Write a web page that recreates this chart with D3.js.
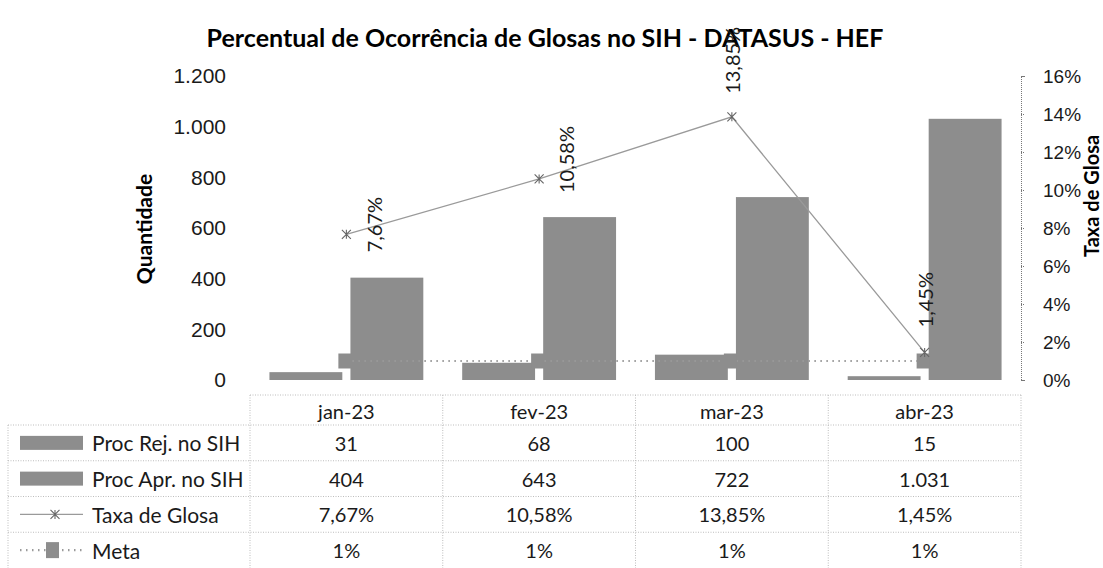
<!DOCTYPE html>
<html>
<head>
<meta charset="utf-8">
<script src="https://cdn.jsdelivr.net/npm/d3@7"></script>
<style>
  body { margin: 0; background: #fff; }
  svg { display: block; font-family: Lato, "Open Sans", sans-serif; }
  .axis text { fill: #1a1a1a; }
</style>
</head>
<body>
<svg id="chart" width="1103" height="568"></svg>
<script>
// data
const categories = ["jan-23", "fev-23", "mar-23", "abr-23"];
const procRej = [31, 68, 100, 15];
const procApr = [404, 643, 722, 1031];
const taxaGlosa = [7.67, 10.58, 13.85, 1.45];
const meta = [1, 1, 1, 1];
const leftTicks = [0, 200, 400, 600, 800, 1000, 1200];
const rightTicks = [0, 2, 4, 6, 8, 10, 12, 14, 16];
const seriesNames = ["Proc Rej. no SIH", "Proc Apr. no SIH", "Taxa de Glosa", "Meta"];

const ptBR = d3.formatLocale({decimal: ",", thousands: ".", grouping: [3], currency: ["R$", ""]});
const fmtInt = ptBR.format(",d");
const fmtPct2 = v => ptBR.format(".2f")(v) + "%";
const fmtPct0 = v => ptBR.format("d")(v) + "%";

const svg = d3.select("#chart");
const barColor = "#8d8d8d";
const lineColor = "#9a9a9a";

// scales
const x = d3.scaleBand().domain(categories).range([250, 1021]).padding(0);
const xs = d3.scaleBand().domain(["rej", "apr"]).range([0, x.bandwidth()])
    .paddingInner(0.1).paddingOuter(0.24);
const yL = d3.scaleLinear().domain([0, 1200]).range([380, 76]);
const yR = d3.scaleLinear().domain([0, 16]).range([380, 76]);
const cx = c => x(c) + x.bandwidth() / 2;

// title
svg.append("text")
    .attr("x", 545).attr("y", 47)
    .attr("text-anchor", "middle")
    .style("font-size", "25px").style("font-weight", "bold")
    .text("Percentual de Ocorrência de Glosas no SIH - DATASUS - HEF");

// left axis (labels only)
const axL = svg.append("g").attr("class", "axis")
    .attr("transform", "translate(232,0)")
    .call(d3.axisLeft(yL).tickValues(leftTicks).tickSize(0).tickPadding(6).tickFormat(fmtInt));
axL.select(".domain").remove();
axL.selectAll("text").style("font-size", "21px");

// right axis
const axR = svg.append("g").attr("class", "axis")
    .attr("transform", "translate(1021,0)")
    .call(d3.axisRight(yR).tickValues(rightTicks).tickSize(4).tickPadding(18).tickFormat(fmtPct0));
axR.selectAll("path, line").attr("stroke", "#777").attr("stroke-dasharray", "1,1");
axR.selectAll("text").style("font-size", "19px");

// axis titles
svg.append("text")
    .attr("transform", "translate(143,229) rotate(-90)")
    .attr("text-anchor", "middle").attr("dominant-baseline", "central")
    .style("font-size", "21px").style("font-weight", "bold")
    .text("Quantidade");
svg.append("text")
    .attr("transform", "translate(1091,196) rotate(-90)")
    .attr("text-anchor", "middle").attr("dominant-baseline", "central")
    .style("font-size", "20px").style("font-weight", "bold")
    .text("Taxa de Glosa");

// bars
const barData = categories.map((c, i) => ({c, rej: procRej[i], apr: procApr[i]}));
const groups = svg.append("g").selectAll("g")
    .data(barData).join("g")
    .attr("transform", d => `translate(${x(d.c)},0)`);
groups.selectAll("rect")
    .data(d => [{k: "rej", v: d.rej}, {k: "apr", v: d.apr}])
    .join("rect")
    .attr("x", d => xs(d.k))
    .attr("width", xs.bandwidth())
    .attr("y", d => yL(d.v))
    .attr("height", d => yL(0) - yL(d.v))
    .attr("fill", barColor);

// meta line + square markers
const metaPts = categories.map((c, i) => [cx(c), yR(meta[i])]);
svg.append("path")
    .attr("d", d3.line()(metaPts))
    .attr("fill", "none").attr("stroke", lineColor)
    .attr("stroke-width", 2.2).attr("stroke-dasharray", "1.5,4.5");
svg.append("g").selectAll("rect")
    .data(metaPts).join("rect")
    .attr("x", d => d[0] - 8).attr("y", d => d[1] - 7.5)
    .attr("width", 13).attr("height", 15)
    .attr("fill", barColor);

// taxa de glosa line
const taxaPts = categories.map((c, i) => [cx(c), yR(taxaGlosa[i])]);
svg.append("path")
    .attr("d", d3.line()(taxaPts))
    .attr("fill", "none").attr("stroke", lineColor).attr("stroke-width", 1.3);

function asterisk(g, r) {
    g.append("path")
        .attr("d", `M${-r},${-r}L${r},${r}M${-r},${r}L${r},${-r}M0,${-r}L0,${r}`)
        .attr("stroke", "#666").attr("stroke-width", 1.1).attr("fill", "none");
}
svg.append("g").selectAll("g")
    .data(taxaPts).join("g")
    .attr("transform", d => `translate(${d[0]},${d[1]})`)
    .each(function () { asterisk(d3.select(this), 4.5); });

// rotated data labels (first two were nudged to the right in the original)
const labelNudge = [[28, 18], [27, 14], [0, -23], [0, -25]];
svg.append("g").selectAll("text")
    .data(taxaPts).join("text")
    .attr("transform", (d, i) => `translate(${d[0] + labelNudge[i][0]},${d[1] + labelNudge[i][1]}) rotate(-90)`)
    .attr("text-anchor", "start").attr("dominant-baseline", "central")
    .style("font-size", "20px").attr("fill", "#1a1a1a")
    .text((d, i) => fmtPct2(taxaGlosa[i]));

// data table
const tbl = svg.append("g");
const headTop = 395, tableBottom = 568, legendLeft = 8;
const rows = d3.scaleBand().domain(seriesNames).range([425, tableBottom]);
const gridStyle = sel => sel.attr("stroke", "#bdbdbd").attr("stroke-width", 1).attr("stroke-dasharray", "1,1.5");

// horizontal lines
tbl.append("line").attr("x1", x.range()[0]).attr("x2", x.range()[1])
    .attr("y1", headTop).attr("y2", headTop).call(gridStyle);
tbl.selectAll(".hl").data(seriesNames).join("line").attr("class", "hl")
    .attr("x1", legendLeft).attr("x2", x.range()[1])
    .attr("y1", d => rows(d)).attr("y2", d => rows(d)).call(gridStyle);
// vertical lines
const colEdges = categories.map(c => x(c)).concat([x.range()[1]]);
tbl.selectAll(".vl").data(colEdges).join("line").attr("class", "vl")
    .attr("x1", d => d).attr("x2", d => d)
    .attr("y1", headTop).attr("y2", tableBottom).call(gridStyle);
tbl.append("line").attr("x1", legendLeft).attr("x2", legendLeft)
    .attr("y1", rows.range()[0]).attr("y2", tableBottom).call(gridStyle);

// header
tbl.selectAll(".hd").data(categories).join("text").attr("class", "hd")
    .attr("x", d => cx(d)).attr("y", (headTop + rows.range()[0]) / 2 + 1)
    .attr("text-anchor", "middle").attr("dominant-baseline", "central")
    .style("font-size", "20px").attr("fill", "#1a1a1a")
    .text(d => d);

// body cells
const tableVals = [procRej.map(fmtInt), procApr.map(fmtInt), taxaGlosa.map(fmtPct2), meta.map(fmtPct0)];
seriesNames.forEach((s, r) => {
    const yc = rows(s) + rows.bandwidth() / 2;
    tbl.append("g").selectAll("text")
        .data(categories).join("text")
        .attr("x", d => cx(d)).attr("y", yc)
        .attr("text-anchor", "middle").attr("dominant-baseline", "central")
        .style("font-size", "20px").attr("fill", "#1a1a1a")
        .text((d, i) => tableVals[r][i]);

    // legend key
    const key = tbl.append("g").attr("transform", `translate(0,${yc})`);
    if (r < 2) {
        key.append("rect").attr("x", 20).attr("y", -7).attr("width", 63).attr("height", 14).attr("fill", barColor);
    } else if (r === 2) {
        key.append("line").attr("x1", 20).attr("x2", 83).attr("stroke", lineColor).attr("stroke-width", 1.3);
        asterisk(key.append("g").attr("transform", "translate(55,0)"), 4.5);
    } else {
        key.append("line").attr("x1", 20).attr("x2", 83).attr("stroke", lineColor)
            .attr("stroke-width", 2.2).attr("stroke-dasharray", "1.5,4.5");
        key.append("rect").attr("x", 46).attr("y", -8).attr("width", 13).attr("height", 16).attr("fill", barColor);
    }
    key.append("text").attr("x", 92).attr("dominant-baseline", "central")
        .style("font-size", "21px").attr("fill", "#1a1a1a")
        .text(s);
});
</script>
</body>
</html>
